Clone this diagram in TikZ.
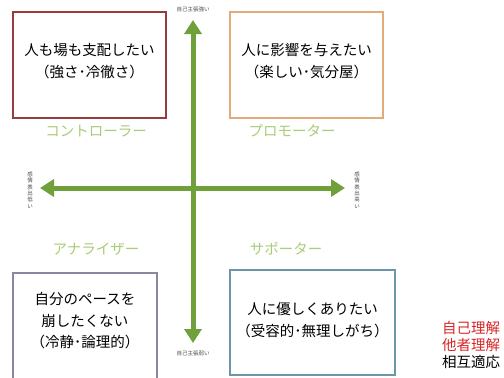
\documentclass[tikz,border=0pt]{standalone}
\usepackage{fontspec}
\setmainfont{Noto Sans CJK JP}
\usetikzlibrary{arrows.meta}
\definecolor{arrowgreen}{RGB}{112,160,58}
\definecolor{catgreen}{RGB}{170,204,120}
\definecolor{boxred}{RGB}{150,62,62}
\definecolor{boxorange}{RGB}{225,170,120}
\definecolor{boxgray}{RGB}{140,135,160}
\definecolor{boxblue}{RGB}{110,150,170}
\definecolor{redtext}{RGB}{215,40,40}
\begin{document}
\begin{tikzpicture}[x=1pt,y=-1pt,
  qtext/.style={align=center,font=\fontsize{14.5}{22}\selectfont,inner sep=0pt},
  quad/.style={line width=1.5pt,fill=white,draw=#1},
  cat/.style={text=catgreen,font=\fontsize{14.5}{16}\selectfont,inner sep=0pt},
  axislbl/.style={text=black!70,font=\fontsize{5.5}{6.5}\selectfont,inner sep=0pt,align=center},
  axis/.style={arrowgreen,line width=5pt,{Triangle[length=14pt,width=17pt]}-{Triangle[length=14pt,width=17pt]}},
  note/.style={font=\fontsize{14.5}{16}\selectfont,inner sep=0pt,anchor=west}]
\clip (0,0) rectangle (504,378);
\fill[white] (0,0) rectangle (504,378);
\useasboundingbox (0,0) rectangle (504,378);
% boxes
\path[quad=boxred] (13,12) rectangle (166,118);
\node[qtext] (tl) at (89.5,61) {人も場も支配したい\\（強さ･冷徹さ）};
\path[quad=boxorange] (230,12) rectangle (383,118);
\node[qtext] (tr) at (306.5,61) {人に影響を与えたい\\（楽しい･気分屋）};
\path[quad=boxgray] (13,273) rectangle (157,390);
\node[qtext,font=\fontsize{14.5}{21.5}\selectfont] (bl) at (85,321) {自分のペースを\\崩したくない\\（冷静･論理的）};
\path[quad=boxblue] (230,270) rectangle (395,375);
\node[qtext] (br) at (312.5,320) {人に優しくありたい\\（受容的･無理しがち）};
% category labels
\node[cat] (c1) at (96,131) {コントローラー};
\node[cat] (c2) at (292,131) {プロモーター};
\node[cat] (c3) at (96,249) {アナライザー};
\node[cat] (c4) at (286,249) {サポーター};
% axes
\coordinate (top) at (193,20);
\coordinate (bot) at (193,343);
\coordinate (lft) at (40,188);
\coordinate (rgt) at (345,188);
\draw[axis] (top) -- (bot);
\draw[axis] (lft) -- (rgt);
% axis labels
\node[axislbl] (lt) at (193,9) {自己主張強い};
\node[axislbl] (lb) at (193,353) {自己主張弱い};
\node[axislbl,font=\fontsize{5.5}{6.3}\selectfont] (ll) at (30,190) {感\\情\\表\\出\\低\\い};
\node[axislbl,font=\fontsize{5.5}{6.3}\selectfont] (lr) at (357,190) {感\\情\\表\\出\\高\\い};
% notes
\node[note,text=redtext] (n1) at (442,328) {自己理解};
\node[note,text=redtext] (n2) at (442,345) {他者理解};
\node[note,text=black] (n3) at (442,362) {相互適応};
\end{tikzpicture}
\end{document}
